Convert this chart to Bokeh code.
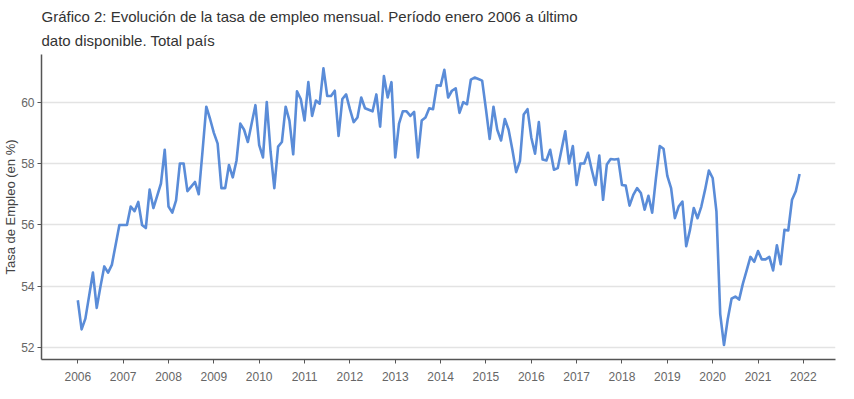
from bokeh.plotting import figure
from bokeh.models import FixedTicker
from bokeh.embed import file_html
from bokeh.resources import INLINE

title_line1 = "Gráfico 2: Evolución de la tasa de empleo mensual. Período enero 2006 a último"
title_line2 = "dato disponible. Total país"
y_label = "Tasa de Empleo (en %)"

years = list(range(2006, 2022))
x_ticks = list(range(2006, 2023))
y_ticks = [52, 54, 56, 58, 60]

v2006 = [53.55, 52.6, 52.95, 53.7, 54.45, 53.3, 54.0, 54.65, 54.45, 54.7, 55.35, 56.0]
v2007 = [56.0, 56.0, 56.6, 56.45, 56.75, 56.0, 55.9, 57.15, 56.55, 56.95, 57.35, 58.45]
v2008 = [56.6, 56.4, 56.8, 58.0, 58.0, 57.1, 57.25, 57.4, 57.0, 58.4, 59.85, 59.45]
v2009 = [59.0, 58.65, 57.2, 57.2, 57.95, 57.55, 58.1, 59.3, 59.1, 58.7, 59.3, 59.9]
v2010 = [58.6, 58.2, 60.0, 58.4, 57.2, 58.55, 58.7, 59.85, 59.4, 58.3, 60.35, 60.1]
v2011 = [59.4, 60.65, 59.55, 60.05, 59.95, 61.1, 60.2, 60.2, 60.37, 58.9, 60.1, 60.25]
v2012 = [59.77, 59.35, 59.5, 60.15, 59.8, 59.75, 59.7, 60.25, 59.2, 60.85, 60.15, 60.65]
v2013 = [58.2, 59.3, 59.7, 59.7, 59.55, 59.68, 58.2, 59.4, 59.5, 59.8, 59.77, 60.55]
v2014 = [60.53, 61.05, 60.15, 60.37, 60.45, 59.65, 60.0, 59.93, 60.73, 60.8, 60.75, 60.7]
v2015 = [59.77, 58.8, 59.85, 59.1, 58.75, 59.45, 59.1, 58.45, 57.72, 58.08, 59.6, 59.77]
v2016 = [58.85, 58.32, 59.35, 58.13, 58.1, 58.45, 57.8, 57.85, 58.45, 59.05, 58.0, 58.57]
v2017 = [57.3, 58.0, 58.0, 58.35, 57.8, 57.3, 58.26, 56.82, 57.97, 58.15, 58.13, 58.15]
v2018 = [57.3, 57.28, 56.63, 56.98, 57.2, 57.04, 56.5, 56.95, 56.4, 57.53, 58.57, 58.48]
v2019 = [57.6, 57.2, 56.22, 56.6, 56.76, 55.31, 55.84, 56.55, 56.22, 56.6, 57.15, 57.77]
v2020 = [57.53, 56.44, 53.1, 52.09, 52.94, 53.6, 53.67, 53.57, 54.09, 54.52, 54.96, 54.8]
v2021 = [55.15, 54.88, 54.88, 54.96, 54.52, 55.34, 54.72, 55.84, 55.82, 56.82, 57.1, 57.66]

series = [v2006, v2007, v2008, v2009, v2010, v2011, v2012, v2013,
          v2014, v2015, v2016, v2017, v2018, v2019, v2020, v2021]

xs, ys = [], []
for yr, vals in zip(years, series):
    for m, v in enumerate(vals):
        xs.append(yr + m / 12.0)
        ys.append(v)

p = figure(width=838, height=383, output_backend="svg", toolbar_location=None,
           x_range=(2005.199, 2022.709), y_range=(51.62, 61.55),
           min_border_left=37, min_border_right=3, min_border_bottom=20, min_border_top=5)

p.title.text = title_line1 + "\n" + title_line2
p.title.text_font = "Liberation Sans"
p.title.text_font_size = "15px"
p.title.text_font_style = "normal"
p.title.text_color = "#333333"
p.title.text_line_height = 1.45
p.title.align = "left"
p.title.standoff = 10

p.line(xs, ys, line_color="#5a8cd8", line_width=2.6, line_join="round")

p.outline_line_color = None
p.xgrid.grid_line_color = None
p.ygrid.grid_line_color = "#e3e3e3"
p.ygrid.grid_line_width = 1.5

p.xaxis.ticker = FixedTicker(ticks=x_ticks)
p.yaxis.ticker = FixedTicker(ticks=y_ticks)
for ax in (p.xaxis, p.yaxis):
    ax.axis_line_color = "#555555"
    ax.axis_line_width = 1.5
    ax.major_tick_line_color = "#555555"
    ax.major_tick_in = 0
    ax.major_tick_out = 4
    ax.minor_tick_line_color = None
    ax.major_label_text_font = "Liberation Sans"
    ax.major_label_text_font_size = "12px"
    ax.major_label_text_color = "#666666"
    ax.major_label_standoff = 3
p.xaxis.major_label_standoff = 8

p.yaxis.axis_label = y_label
p.yaxis.axis_label_text_font = "Liberation Sans"
p.yaxis.axis_label_text_font_size = "13px"
p.yaxis.axis_label_text_font_style = "normal"
p.yaxis.axis_label_text_color = "#444444"
p.yaxis.axis_label_standoff = 0

open("out.html", "w").write(file_html(p, INLINE))
